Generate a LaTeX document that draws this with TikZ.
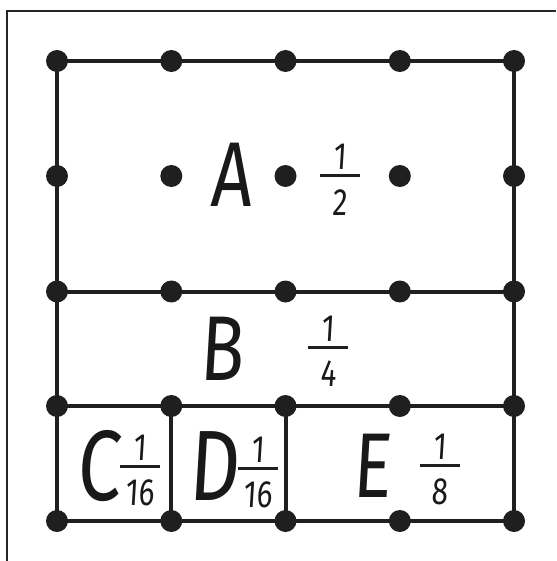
\documentclass[tikz,border=0pt]{standalone}
\usepackage{fontspec}
\newfontfamily\hand[FakeStretch=0.78,FakeSlant=0.06]{Fira Sans}
\begin{document}
\begin{tikzpicture}[x=1pt,y=-1pt,
  frame/.style={line width=2pt,draw=black!85},
  gridline/.style={line width=4pt,draw=black!88},
  dot/.style={circle,fill=black!88,inner sep=0pt,minimum size=22pt},
  letter/.style={inner sep=0pt,anchor=base,font=\hand\fontsize{92}{92}\selectfont,text=black!90},
  bigletter/.style={letter,font=\hand\fontsize{100}{100}\selectfont},
  digit/.style={inner sep=0pt,anchor=base,font=\hand\fontsize{38}{38}\selectfont,text=black!90},
  fracbar/.style={line width=3pt,draw=black!88}]
\useasboundingbox (0,0) rectangle (556,561);
% outer frame (only top and left visible)
\coordinate (fbl) at (7,561);
\coordinate (ftl) at (7,11);
\coordinate (ftr) at (556,11);
\draw[frame] (fbl) -- (ftl) -- (ftr);
% grid coordinates
\foreach \i/\x in {0/57,1/171.3,2/285.5,3/399.8,4/514}{
  \foreach \j/\y in {0/61,1/176,2/291.5,3/406,4/521}{
    \coordinate (p-\i-\j) at (\x,\y);
  }
}
% lines
\draw[gridline] (p-0-0) rectangle (p-4-4);
\draw[gridline] (p-0-2) -- (p-4-2);
\draw[gridline] (p-0-3) -- (p-4-3);
\draw[gridline] (p-1-3) -- (p-1-4);
\draw[gridline] (p-2-3) -- (p-2-4);
% dots
\foreach \i in {0,...,4}{
  \foreach \j in {0,...,4}{
    \node[dot] (d-\i-\j) at (p-\i-\j) {};
  }
}
% letters
\node[letter] (lA) at (231,207) {A};
\node[letter] (lB) at (221,380) {B};
\node[bigletter] (lC) at (98,500) {C};
\node[bigletter] (lD) at (214,500) {D};
\node[letter] (lE) at (372,497) {E};
% fractions
\newcommand\myfrac[5]{%
  \coordinate (#1-l) at (#2-20,#3);
  \coordinate (#1-r) at (#2+20,#3);
  \draw[fracbar] (#1-l) -- (#1-r);
  \node[digit] (#1-n) at (#2,#3-6) {#4};
  \node[digit] (#1-d) at (#2,#3+39) {#5};
}
\myfrac{fA}{340}{176}{1}{2}
\myfrac{fB}{328}{347}{1}{4}
\myfrac{fC}{140}{466}{1}{16}
\myfrac{fD}{258}{468}{1}{16}
\myfrac{fE}{440}{465}{1}{8}
\end{tikzpicture}
\end{document}
